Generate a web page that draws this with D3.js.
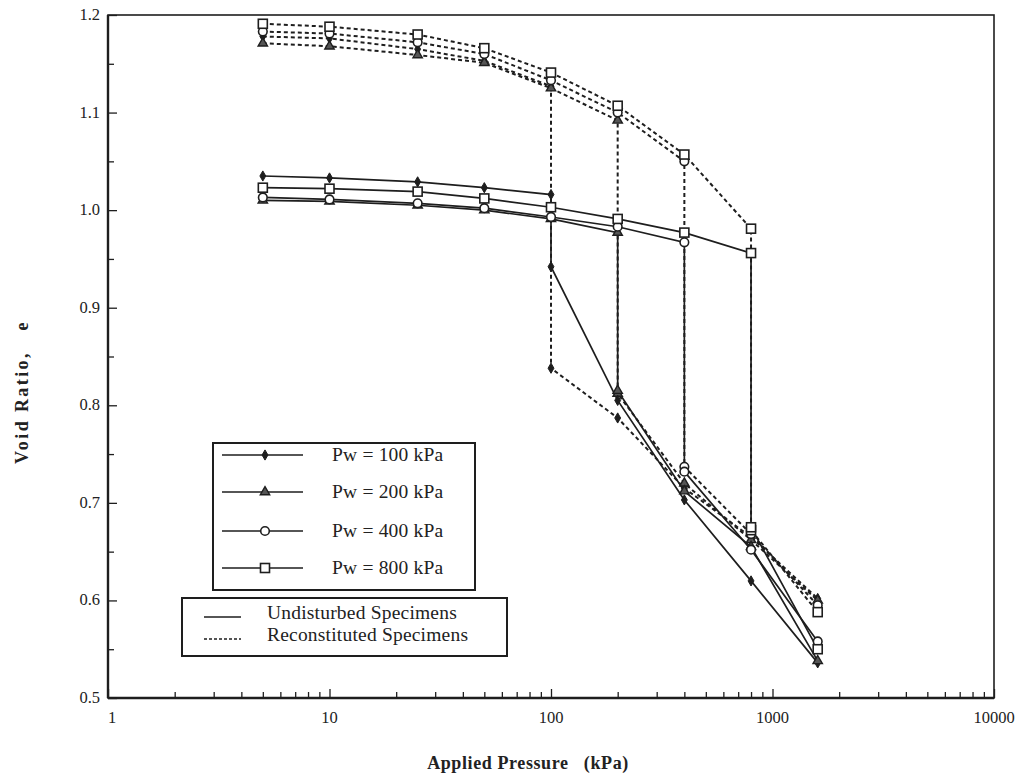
<!DOCTYPE html>
<html lang="en">
<head>
  <meta charset="UTF-8">
  <title>Void ratio vs applied pressure</title>
  <script src="https://d3js.org/d3.v7.min.js"></script>
  <style>
    html, body { margin: 0; padding: 0; background: #fff; }
    svg { display: block; font-family: 'Liberation Serif', 'DejaVu Serif', serif; }
    .tick-label { font-size: 16.5px; fill: #222; }
    .axis-title { font-size: 18px; font-weight: 700; fill: #222; white-space: pre; letter-spacing: 0.6px; }
    .legend-text { font-size: 19.5px; fill: #222; letter-spacing: 0.2px; }
  </style>
</head>
<body>
  <div id="chart"></div>
  <script>
    // applied pressure steps (kPa)
    var pressures = [5, 10, 25, 50, 100, 200, 400, 800, 1600];
    var wettingPressures = [100, 200, 400, 800];
    var seriesLabels = ["Pw = 100 kPa", "Pw = 200 kPa", "Pw = 400 kPa", "Pw = 800 kPa"];
    var markerTypes = ["diamond", "triangle", "circle", "square"];

    // undisturbed specimens: void ratio before wetting (5 kPa .. Pw) and after wetting (Pw .. 1600 kPa)
    var und100Before = [1.035, 1.033, 1.029, 1.023, 1.016];
    var und100After  = [0.942, 0.805, 0.703, 0.620, 0.536];
    var und200Before = [1.010, 1.009, 1.005, 1.000, 0.991, 0.977];
    var und200After  = [0.815, 0.712, 0.655, 0.538];
    var und400Before = [1.013, 1.011, 1.007, 1.002, 0.993, 0.983, 0.967];
    var und400After  = [0.732, 0.652, 0.558];
    var und800Before = [1.023, 1.022, 1.019, 1.012, 1.003, 0.991, 0.977, 0.956];
    var und800After  = [0.675, 0.550];

    // reconstituted specimens
    var rec100Before = [1.178, 1.176, 1.165, 1.153, 1.127];
    var rec100After  = [0.838, 0.787, 0.715, 0.665, 0.602];
    var rec200Before = [1.171, 1.168, 1.159, 1.151, 1.125, 1.092];
    var rec200After  = [0.812, 0.720, 0.662, 0.600];
    var rec400Before = [1.183, 1.181, 1.172, 1.160, 1.133, 1.100, 1.050];
    var rec400After  = [0.737, 0.668, 0.595];
    var rec800Before = [1.191, 1.188, 1.180, 1.166, 1.141, 1.107, 1.057, 0.981];
    var rec800After  = [0.672, 0.588];

    var xTickValues = [1, 10, 100, 1000, 10000];
    var yTickValues = [0.5, 0.6, 0.7, 0.8, 0.9, 1.0, 1.1, 1.2];

    var width = 1021, height = 778;
    var ink = "#1e1e1e";

    var x = d3.scaleLog().domain([1, 10000]).range([108, 994]);
    var y = d3.scaleLinear().domain([0.5, 1.2]).range([698, 15]);

    function buildPoints(pw, before, after) {
      var pts = [];
      pressures.filter(function(p) { return p <= pw; }).forEach(function(p, i) {
        pts.push({ p: p, e: before[i] });
      });
      pressures.filter(function(p) { return p >= pw; }).forEach(function(p, i) {
        pts.push({ p: p, e: after[i] });
      });
      return pts;
    }

    var undisturbed = [
      buildPoints(100, und100Before, und100After),
      buildPoints(200, und200Before, und200After),
      buildPoints(400, und400Before, und400After),
      buildPoints(800, und800Before, und800After)
    ];
    var reconstituted = [
      buildPoints(100, rec100Before, rec100After),
      buildPoints(200, rec200Before, rec200After),
      buildPoints(400, rec400Before, rec400After),
      buildPoints(800, rec800Before, rec800After)
    ];

    var svg = d3.select("#chart").append("svg")
      .attr("width", width)
      .attr("height", height);

    // frame
    svg.append("rect")
      .attr("x", x(1)).attr("y", y(1.2))
      .attr("width", x(10000) - x(1)).attr("height", y(0.5) - y(1.2))
      .attr("fill", "none").attr("stroke", ink).attr("stroke-width", 1.6);
    svg.append("line")
      .attr("x1", x(1)).attr("x2", x(1)).attr("y1", y(1.2)).attr("y2", y(0.5))
      .attr("stroke", ink).attr("stroke-width", 2.4);
    svg.append("line")
      .attr("x1", x(1)).attr("x2", x(10000)).attr("y1", y(0.5)).attr("y2", y(0.5))
      .attr("stroke", ink).attr("stroke-width", 2.4);

    // x axis: inward log ticks
    var xAxis = d3.axisTop(x)
      .tickValues(d3.range(0, 4).flatMap(function(k) {
        return d3.range(1, 10).map(function(m) { return m * Math.pow(10, k); });
      }).concat([10000]))
      .tickSize(0)
      .tickFormat("");
    var gx = svg.append("g").attr("transform", "translate(0," + y(0.5) + ")").call(xAxis);
    gx.select(".domain").remove();
    gx.selectAll(".tick line")
      .attr("y2", function(d) { return xTickValues.indexOf(d) >= 0 ? -9 : -6; })
      .attr("stroke", ink).attr("stroke-width", 1.3);

    svg.append("g").selectAll("text")
      .data(xTickValues)
      .join("text")
      .attr("class", "tick-label")
      .attr("x", function(d) { return x(d) + (d === 1 ? 4 : 0); })
      .attr("y", 723)
      .attr("text-anchor", "middle")
      .text(function(d) { return d; });

    // y axis: inward ticks
    var yAxis = d3.axisRight(y)
      .tickValues(d3.range(0, 15).map(function(i) { return +(0.5 + i * 0.05).toFixed(2); }))
      .tickSize(0)
      .tickFormat("");
    var gy = svg.append("g").attr("transform", "translate(" + x(1) + ",0)").call(yAxis);
    gy.select(".domain").remove();
    gy.selectAll(".tick line")
      .attr("x2", function(d, i) { return i % 2 === 0 ? 9 : 6; })
      .attr("stroke", ink).attr("stroke-width", 1.3);

    svg.append("g").selectAll("text")
      .data(yTickValues)
      .join("text")
      .attr("class", "tick-label")
      .attr("x", 100)
      .attr("y", function(d) { return y(d) + 5; })
      .attr("text-anchor", "end")
      .text(function(d) { return d.toFixed(1); });

    // axis titles
    svg.append("text")
      .attr("class", "axis-title")
      .attr("x", 528).attr("y", 769)
      .attr("text-anchor", "middle")
      .text("Applied Pressure   (kPa)");
    svg.append("text")
      .attr("class", "axis-title")
      .attr("transform", "translate(28,392) rotate(-90)")
      .attr("text-anchor", "middle")
      .style("letter-spacing", "2.4px")
      .text("Void Ratio,   e");

    var line = d3.line()
      .x(function(d) { return x(d.p); })
      .y(function(d) { return y(d.e); });

    svg.append("g").selectAll("path")
      .data(reconstituted)
      .join("path")
      .attr("d", line)
      .attr("fill", "none")
      .attr("stroke", ink)
      .attr("stroke-width", 2)
      .attr("stroke-dasharray", "4,3");

    svg.append("g").selectAll("path")
      .data(undisturbed)
      .join("path")
      .attr("d", line)
      .attr("fill", "none")
      .attr("stroke", ink)
      .attr("stroke-width", 1.7);

    function drawMarker(sel, type) {
      if (type === "diamond") {
        sel.append("path")
          .attr("d", d3.symbol(d3.symbolDiamond, 30)())
          .attr("fill", ink).attr("stroke", ink).attr("stroke-width", 1);
      } else if (type === "triangle") {
        sel.append("path")
          .attr("d", d3.symbol(d3.symbolTriangle, 38)())
          .attr("fill", "#555").attr("stroke", ink).attr("stroke-width", 1.4);
      } else if (type === "circle") {
        sel.append("circle")
          .attr("r", 4.3)
          .attr("fill", "#fff").attr("stroke", ink).attr("stroke-width", 1.6);
      } else {
        sel.append("rect")
          .attr("x", -4.5).attr("y", -4.5).attr("width", 9).attr("height", 9)
          .attr("fill", "#fff").attr("stroke", ink).attr("stroke-width", 1.6);
      }
    }

    [reconstituted, undisturbed].forEach(function(group) {
      group.forEach(function(pts, si) {
        svg.append("g").selectAll("g")
          .data(pts)
          .join("g")
          .attr("transform", function(d) { return "translate(" + x(d.p) + "," + y(d.e) + ")"; })
          .each(function() { drawMarker(d3.select(this), markerTypes[si]); });
      });
    });

    // legend: water pressure series
    var lg = svg.append("g");
    lg.append("rect")
      .attr("x", 213).attr("y", 443).attr("width", 262).attr("height", 147)
      .attr("fill", "#fff").attr("stroke", ink).attr("stroke-width", 2);
    var legendRows = [455, 492, 531, 568];
    seriesLabels.forEach(function(label, i) {
      var row = lg.append("g").attr("transform", "translate(0," + legendRows[i] + ")");
      row.append("line")
        .attr("x1", 222).attr("x2", 303).attr("y1", 0).attr("y2", 0)
        .attr("stroke", ink).attr("stroke-width", 1.7);
      drawMarker(row.append("g").attr("transform", "translate(265,0)"), markerTypes[i]);
      row.append("text")
        .attr("class", "legend-text")
        .attr("x", 332).attr("y", 6)
        .text(label);
    });

    // legend: specimen type
    var lg2 = svg.append("g");
    lg2.append("rect")
      .attr("x", 182).attr("y", 598).attr("width", 325).attr("height", 58)
      .attr("fill", "#fff").attr("stroke", ink).attr("stroke-width", 2);
    var typeLabels = ["Undisturbed Specimens", "Reconstituted Specimens"];
    typeLabels.forEach(function(label, i) {
      var yy = 614 + i * 22;
      lg2.append("line")
        .attr("x1", 204).attr("x2", 241).attr("y1", yy + 3).attr("y2", yy + 3)
        .attr("stroke", ink).attr("stroke-width", 1.3)
        .attr("stroke-dasharray", i === 0 ? null : "3,2");
      lg2.append("text")
        .attr("class", "legend-text")
        .attr("x", 267).attr("y", yy + 5)
        .text(label);
    });
  </script>
</body>
</html>
